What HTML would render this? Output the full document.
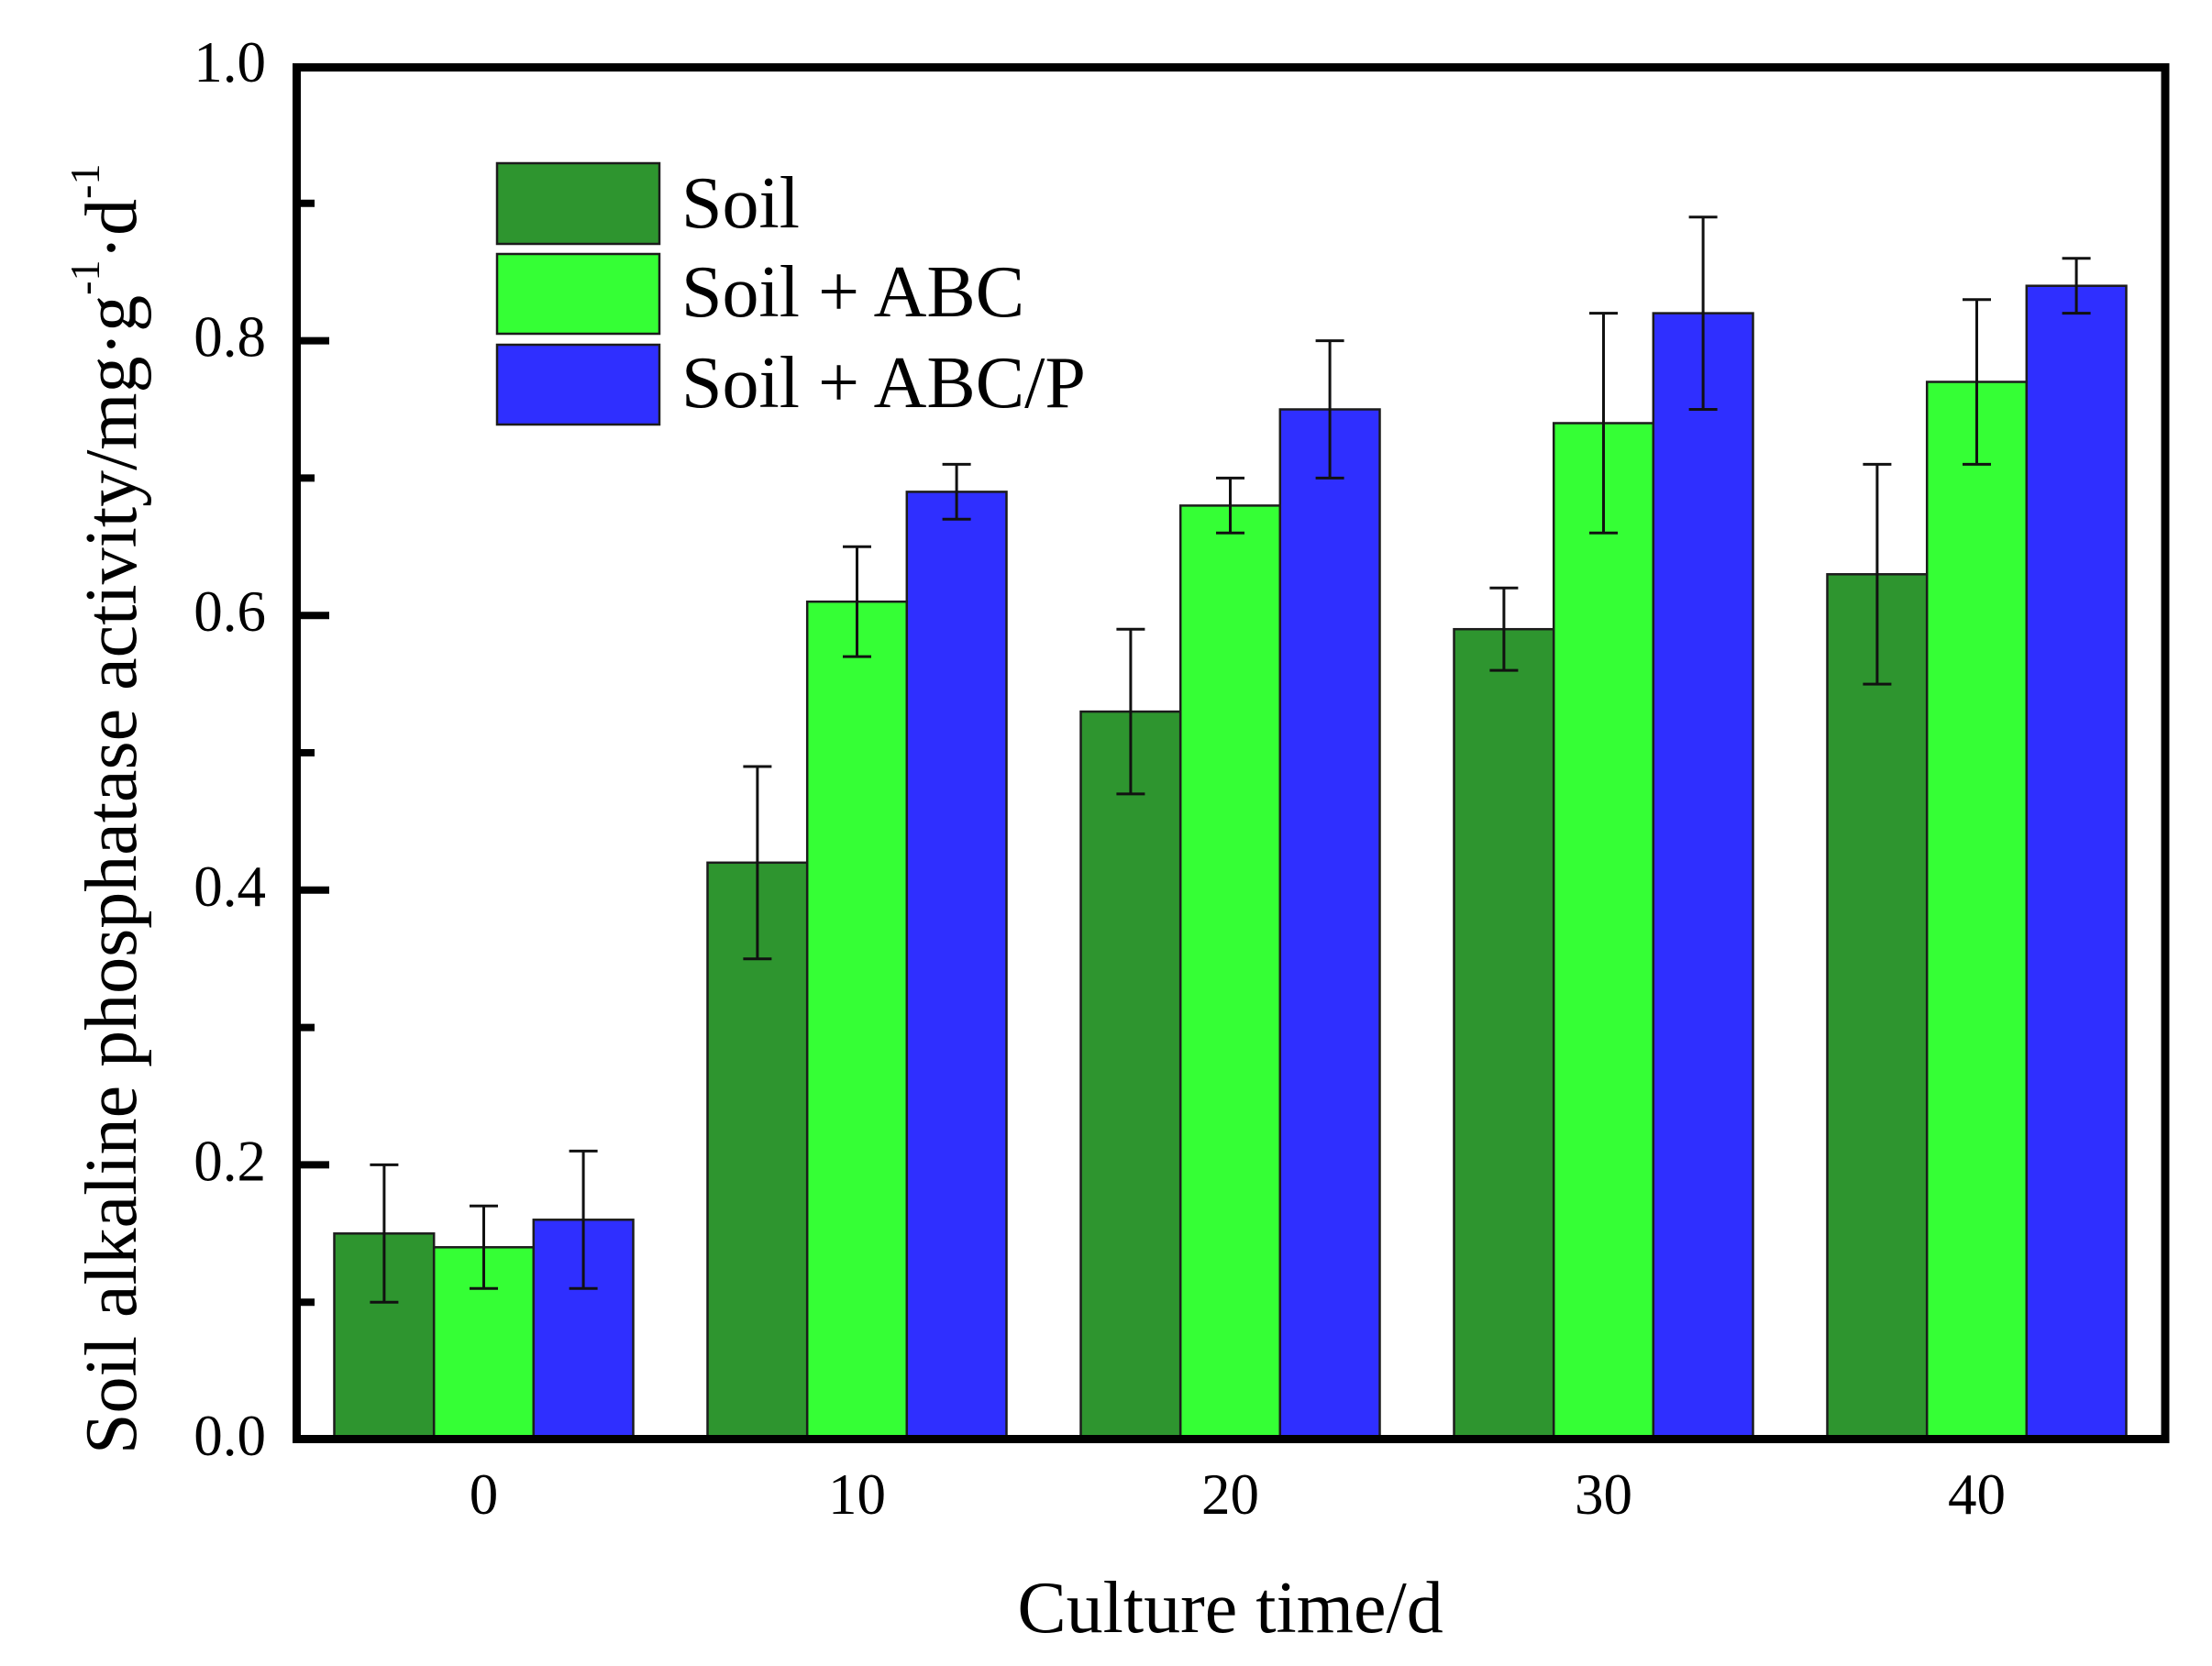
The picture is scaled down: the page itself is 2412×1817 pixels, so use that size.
<!DOCTYPE html>
<html>
<head>
<meta charset="utf-8">
<style>
  html,body{margin:0;padding:0;background:#fff;}
  svg{display:block;}
  text{font-family:"Liberation Serif","Times New Roman",serif;fill:#000;}
</style>
</head>
<body>
<svg width="2412" height="1817" viewBox="0 0 2412 1817" xmlns="http://www.w3.org/2000/svg">
  <rect x="0" y="0" width="2412" height="1817" fill="#fff"/>

  <!-- Bars -->
  <g stroke="#1c1c1c" stroke-width="2.5">
    <!-- group 0 -->
    <rect x="364.5" y="1345.3" width="108.7" height="224.7" fill="#2e952f"/>
    <rect x="473.2" y="1360.3" width="108.6" height="209.7" fill="#35ff35"/>
    <rect x="581.8" y="1330.3" width="108.7" height="239.7" fill="#2f2fff"/>
    <!-- group 10 -->
    <rect x="771.5" y="940.8" width="108.7" height="629.2" fill="#2e952f"/>
    <rect x="880.2" y="656.2" width="108.6" height="913.8" fill="#35ff35"/>
    <rect x="988.8" y="536.4" width="108.7" height="1033.6" fill="#2f2fff"/>
    <!-- group 20 -->
    <rect x="1178.5" y="776.1" width="108.7" height="793.9" fill="#2e952f"/>
    <rect x="1287.2" y="551.4" width="108.6" height="1018.6" fill="#35ff35"/>
    <rect x="1395.8" y="446.5" width="108.7" height="1123.5" fill="#2f2fff"/>
    <!-- group 30 -->
    <rect x="1585.5" y="686.2" width="108.7" height="883.8" fill="#2e952f"/>
    <rect x="1694.2" y="461.5" width="108.6" height="1108.5" fill="#35ff35"/>
    <rect x="1802.8" y="341.6" width="108.7" height="1228.4" fill="#2f2fff"/>
    <!-- group 40 -->
    <rect x="1992.5" y="626.3" width="108.7" height="943.7" fill="#2e952f"/>
    <rect x="2101.2" y="416.5" width="108.6" height="1153.5" fill="#35ff35"/>
    <rect x="2209.8" y="311.7" width="108.7" height="1258.3" fill="#2f2fff"/>
  </g>

  <!-- Error bars -->
  <g stroke="#111" stroke-width="3" fill="none">
    <!-- group 0 -->
    <path d="M418.9 1270.4V1420.2M403.4 1270.4H434.4M403.4 1420.2H434.4"/>
    <path d="M527.5 1315.3V1405.2M512 1315.3H543M512 1405.2H543"/>
    <path d="M636.1 1255.4V1405.2M620.6 1255.4H651.6M620.6 1405.2H651.6"/>
    <!-- group 10 -->
    <path d="M825.9 836.0V1045.7M810.4 836.0H841.4M810.4 1045.7H841.4"/>
    <path d="M934.5 596.3V716.1M919 596.3H950M919 716.1H950"/>
    <path d="M1043.1 506.4V566.3M1027.6 506.4H1058.6M1027.6 566.3H1058.6"/>
    <!-- group 20 -->
    <path d="M1232.9 686.2V865.9M1217.4 686.2H1248.4M1217.4 865.9H1248.4"/>
    <path d="M1341.5 521.4V581.3M1326 521.4H1357M1326 581.3H1357"/>
    <path d="M1450.1 371.6V521.4M1434.6 371.6H1465.6M1434.6 521.4H1465.6"/>
    <!-- group 30 -->
    <path d="M1639.9 641.2V731.1M1624.4 641.2H1655.4M1624.4 731.1H1655.4"/>
    <path d="M1748.5 341.6V581.3M1733 341.6H1764M1733 581.3H1764"/>
    <path d="M1857.1 236.8V446.5M1841.6 236.8H1872.6M1841.6 446.5H1872.6"/>
    <!-- group 40 -->
    <path d="M2046.9 506.4V746.1M2031.4 506.4H2062.4M2031.4 746.1H2062.4"/>
    <path d="M2155.5 326.7V506.4M2140 326.7H2171M2140 506.4H2171"/>
    <path d="M2264.1 281.7V341.6M2248.6 281.7H2279.6M2248.6 341.6H2279.6"/>
  </g>

  <!-- Y ticks -->
  <g stroke="#000" stroke-width="8">
    <line x1="323" y1="1570" x2="359" y2="1570"/>
    <line x1="323" y1="1270.4" x2="359" y2="1270.4"/>
    <line x1="323" y1="970.8" x2="359" y2="970.8"/>
    <line x1="323" y1="671.2" x2="359" y2="671.2"/>
    <line x1="323" y1="371.6" x2="359" y2="371.6"/>
    <line x1="323" y1="1420.2" x2="343" y2="1420.2"/>
    <line x1="323" y1="1120.6" x2="343" y2="1120.6"/>
    <line x1="323" y1="821.0" x2="343" y2="821.0"/>
    <line x1="323" y1="521.4" x2="343" y2="521.4"/>
    <line x1="323" y1="221.8" x2="343" y2="221.8"/>
  </g>

  <!-- Axes frame -->
  <rect x="323.5" y="73.5" width="2037.5" height="1496" fill="none" stroke="#000" stroke-width="9"/>

  <!-- Y tick labels -->
  <g font-size="63" text-anchor="end">
    <text x="290" y="1587">0.0</text>
    <text x="290" y="1287.4">0.2</text>
    <text x="290" y="987.8">0.4</text>
    <text x="290" y="688.2">0.6</text>
    <text x="290" y="388.6">0.8</text>
    <text x="290" y="89">1.0</text>
  </g>

  <!-- X tick labels -->
  <g font-size="63" text-anchor="middle">
    <text x="527.5" y="1651">0</text>
    <text x="934.5" y="1651">10</text>
    <text x="1341.5" y="1651">20</text>
    <text x="1748.5" y="1651">30</text>
    <text x="2155.5" y="1651">40</text>
  </g>

  <!-- X axis title -->
  <text x="1341.5" y="1780" font-size="80" text-anchor="middle">Culture time/d</text>

  <!-- Y axis title -->
  <text transform="translate(148,1586) rotate(-90)" font-size="80">Soil alkaline phosphatase activity/mg·g<tspan font-size="46" dy="-40">-1</tspan><tspan font-size="80" dy="40">·d</tspan><tspan font-size="46" dy="-40">-1</tspan></text>

  <!-- Legend -->
  <g stroke="#1c1c1c" stroke-width="2.5">
    <rect x="542" y="178" width="177" height="88" fill="#2e952f"/>
    <rect x="542" y="277" width="177" height="87" fill="#35ff35"/>
    <rect x="542" y="376" width="177" height="87" fill="#2f2fff"/>
  </g>
  <g font-size="80">
    <text x="743" y="248">Soil</text>
    <text x="743" y="345">Soil + ABC</text>
    <text x="743" y="444">Soil + ABC/P</text>
  </g>
</svg>
</body>
</html>
